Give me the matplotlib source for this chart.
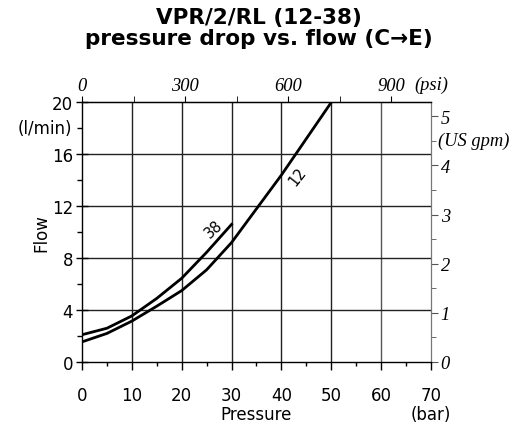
import matplotlib
matplotlib.use("Agg")
import matplotlib.pyplot as plt
import numpy as np

# pressure (bar) vs flow (l/min) for the two springs
p_38 = [0, 5, 10, 15, 20, 25, 30]
q_38 = [2.1, 2.6, 3.55, 4.9, 6.45, 8.45, 10.6]
p_12 = [0, 5, 10, 15, 20, 25, 30, 35, 40, 45, 50]
q_12 = [1.55, 2.2, 3.15, 4.3, 5.5, 7.1, 9.2, 11.8, 14.4, 17.2, 20.0]

title = "VPR/2/RL (12-38)\npressure drop vs. flow (C\u2192E)"
x_ticks = [0, 10, 20, 30, 40, 50, 60, 70]
y_ticks = [0, 4, 8, 12, 16, 20]
psi_ticks = [0, 300, 600, 900]
gpm_ticks = [0, 1, 2, 3, 4, 5]

BAR_TO_PSI = 14.5038
GPM_TO_LPM = 3.78541

fig = plt.figure(figsize=(5.18, 4.27), dpi=100)
ax = fig.add_axes([0.1583, 0.1499, 0.8320 - 0.1583, 0.758 - 0.1499])
ax.set_xlim(0, 70)
ax.set_ylim(0, 20)

ax.set_xticks(x_ticks)
ax.set_xticks(np.arange(5, 70, 10), minor=True)
ax.set_yticks(y_ticks)
ax.set_yticks(np.arange(2, 20, 4), minor=True)
ax.tick_params(axis="x", which="major", length=6, direction="out", labelsize=12, width=1, pad=11)
ax.tick_params(axis="x", which="minor", length=3, direction="out", width=1)
ax.tick_params(axis="y", which="major", length=8.6, direction="inout", labelsize=12, width=1, pad=2)
ax.tick_params(axis="y", which="minor", length=3.6, direction="out", width=1)
for v in x_ticks[1:-1]:
    ax.axvline(v, color="#555555" if v == 60 else "#222222", lw=1, zorder=1)
for v in y_ticks[1:-1]:
    ax.axhline(v, color="#222222", lw=1, zorder=1)
ax.spines["right"].set_color("#777777")
for s in ["left", "top", "bottom"]:
    ax.spines[s].set_linewidth(1)

ax.plot(p_38, q_38, color="black", lw=2, zorder=3)
ax.plot(p_12, q_12, color="black", lw=2, zorder=3)
ax.text(26.5, 10.3, "38", rotation=42, fontsize=10.5, ha="center", va="center")
ax.text(43.2, 14.3, "12", rotation=52, fontsize=10.5, ha="center", va="center")

ax.set_xlabel("Pressure", fontsize=12, labelpad=1)
ax.set_ylabel("Flow", fontsize=12)
ax.yaxis.set_label_coords(-0.09, 0.5)
ax.text(70, -3.35, "(bar)", fontsize=12, ha="center", va="top")
ax.text(-1.9, 18, "(l/min)", fontsize=12, ha="right", va="center")

serif = dict(family="Liberation Serif", style="italic", fontsize=13.3)

# secondary psi axis on top
top = ax.secondary_xaxis("top", functions=(lambda b: b * BAR_TO_PSI, lambda p: p / BAR_TO_PSI))
top.set_xticks(psi_ticks)
top.set_xticks(np.arange(150, 1050, 300), minor=True)
top.tick_params(which="major", length=4, direction="out", pad=2)
top.tick_params(which="minor", length=4, direction="out")
top.set_xticklabels([str(t) for t in psi_ticks], **serif)
ax.text(70, 20.75, "(psi)", ha="center", va="bottom", **serif)

# secondary gpm axis on right
right = ax.secondary_yaxis("right", functions=(lambda q: q / GPM_TO_LPM, lambda g: g * GPM_TO_LPM))
right.set_yticks(gpm_ticks)
right.set_yticks(np.arange(0.5, 5.5, 1), minor=True)
right.tick_params(which="major", length=5, direction="out", pad=2, color="#555555")
right.tick_params(which="minor", length=3.5, direction="out", color="#555555")
right.set_yticklabels([str(t) for t in gpm_ticks], **serif)
right.spines["right"].set_color("#777777")
ax.text(71.4, 4.5 * GPM_TO_LPM, "(US gpm)", ha="left", va="center", **serif)

fig.suptitle(title, fontsize=15.5, fontweight="bold", y=0.981, va="top", linespacing=1.05)

fig.savefig("out.png", dpi=100)
